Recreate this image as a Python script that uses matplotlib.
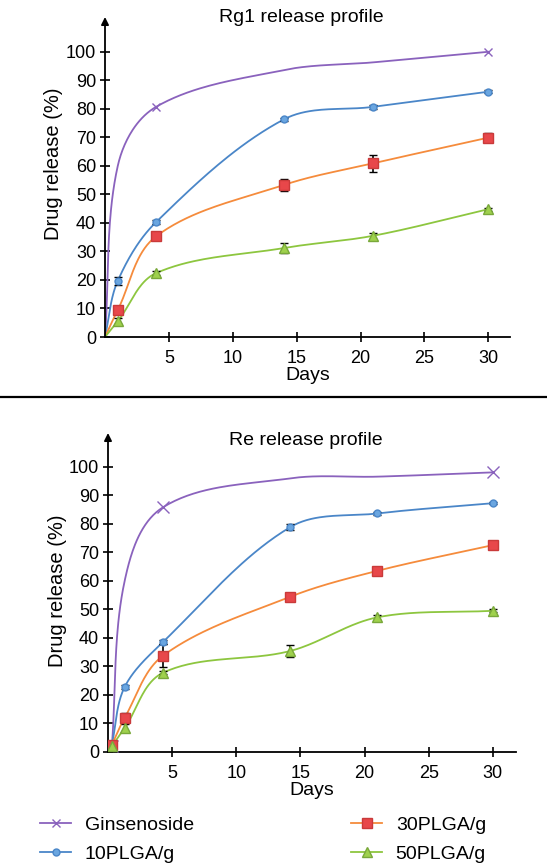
import numpy as np
import matplotlib.pyplot as plt
from matplotlib.lines import Line2D

plt.rcParams['font.family'] = ['Liberation Sans', 'DejaVu Sans']

# Rg1 release profile (top panel)
days_rg1 = [0, 1, 4, 14, 21, 30]
gin_rg1 = [0, 60, 80.7, 93.6, 96.3, 100]
p10_rg1 = [0, 19.7, 40.3, 76.3, 80.7, 86.0]
p10_rg1_err = [0, 1.5, 0.6, 0.6, 0.6, 0.6]
p30_rg1 = [0, 9.5, 35.3, 53.3, 60.9, 69.9]
p30_rg1_err = [0, 0.6, 0.8, 2.0, 3.0, 1.5]
p50_rg1 = [0, 5.5, 22.4, 31.2, 35.5, 44.8]
p50_rg1_err = [0, 1.0, 0.6, 1.8, 1.0, 0.6]

# Re release profile (bottom panel)
days_re = [0.3, 1.3, 4.3, 14.2, 21, 30]
gin_re = [2, 60, 85.8, 95.9, 96.5, 98.0]
p10_re = [2.5, 22.8, 38.6, 78.8, 83.6, 87.2]
p10_re_err = [0.4, 0.6, 0.8, 1.0, 0.5, 0.4]
p30_re = [2.5, 12.0, 33.8, 54.4, 63.5, 72.5]
p30_re_err = [0.5, 1.5, 4.0, 1.0, 0.5, 0.5]
p50_re = [2.0, 8.4, 27.8, 35.4, 47.2, 49.5]
p50_re_err = [0.5, 1.5, 0.6, 2.0, 0.8, 0.5]

labels = ['Ginsenoside', '10PLGA/g', '30PLGA/g', '50PLGA/g']
xticks = [5, 10, 15, 20, 25, 30]
yticks = list(range(0, 101, 10))

c_gin = '#8a62bd'
c_10 = '#4a86c8'
c_30 = '#f58b3c'
c_50 = '#8dc63f'


def smooth(x, y, sx, sy, n=40):
    # bezier smoothing in pixel-ish space, control arms ~ segment length / 3
    P = np.column_stack([np.asarray(x, float) * sx, np.asarray(y, float) * sy])
    m = len(P)
    tang = []
    for i in range(m):
        a = P[max(i - 1, 0)]
        b = P[min(i + 1, m - 1)]
        d = b - a
        tang.append(d / np.hypot(*d))
    t = np.linspace(0, 1, n)[1:, None]
    out = [P[:1]]
    for i in range(m - 1):
        p0, p3 = P[i], P[i + 1]
        L = np.hypot(*(p3 - p0)) / 3
        c1 = p0 + tang[i] * L
        c2 = p3 - tang[i + 1] * L
        seg = (1 - t)**3 * p0 + 3 * (1 - t)**2 * t * c1 + 3 * (1 - t) * t**2 * c2 + t**3 * p3
        out.append(seg)
    Q = np.vstack(out)
    return Q[:, 0] / sx, Q[:, 1] / sy


def series(ax, x, y, err, color, marker, mfc, mec, ms, idx):
    xs, ys = smooth(x, y, 12.8, 2.85)
    ax.plot(xs, ys, color=color, lw=1.3, zorder=2)
    x = np.asarray(x, float)[idx]
    y = np.asarray(y, float)[idx]
    e = None if err is None else np.asarray(err, float)[idx]
    ax.errorbar(x, y, yerr=e, fmt=marker, ms=ms, mfc=mfc, mec=mec, mew=1.0,
                ecolor='k', elinewidth=1.2, capsize=3, capthick=1.2, zorder=3)


def style(ax, xmax, ymax, title, ty):
    ax.set_xlim(0, xmax)
    ax.set_ylim(0, ymax)
    for s in ['top', 'right', 'left']:
        ax.spines[s].set_visible(False)
    ax.spines['bottom'].set_linewidth(1.3)
    ax.annotate('', xy=(0, 1), xytext=(0, 0), xycoords='axes fraction',
                arrowprops=dict(arrowstyle='-|>', color='k', lw=1.3, mutation_scale=11,
                                shrinkA=0, shrinkB=0))
    ax.set_xticks(xticks)
    ax.set_yticks(yticks)
    ax.tick_params(direction='inout', length=7, width=1.2, labelsize=13)
    ax.tick_params(axis='x', pad=6)
    ax.tick_params(axis='y', pad=3)
    ax.set_xlabel('Days', fontsize=14, labelpad=0)
    ax.set_ylabel('Drug release (%)', fontsize=14.5)
    ax.text(0.485, ty, title, transform=ax.transAxes, ha='center', va='center', fontsize=14)


fig = plt.figure(figsize=(5.47, 8.65), dpi=100)

ax1 = fig.add_axes([105 / 547, 1 - 337 / 865, 405 / 547, 320 / 865])
all_i = [1, 2, 3, 4, 5]
series(ax1, days_rg1, gin_rg1, None, c_gin, 'x', c_gin, c_gin, 6, [2, 5])
series(ax1, days_rg1, p10_rg1, p10_rg1_err, c_10, 'o', '#6aa6e0', c_10, 5, all_i)
series(ax1, days_rg1, p30_rg1, p30_rg1_err, c_30, 's', '#e8474a', '#c93a3a', 6.5, all_i)
series(ax1, days_rg1, p50_rg1, p50_rg1_err, c_50, '^', '#9fd14d', '#79a83a', 6.5, all_i)
style(ax1, 31.7, 112.2, 'Rg1 release profile', 1.0)
ax1.yaxis.set_label_coords(-0.104, 0.54)

ax2 = fig.add_axes([108 / 547, 1 - 752 / 865, 408 / 547, 319 / 865])
all_j = [0, 1, 2, 3, 4, 5]
series(ax2, days_re, gin_re, None, c_gin, 'x', c_gin, c_gin, 8, [0, 2, 5])
series(ax2, days_re, p10_re, p10_re_err, c_10, 'o', '#6aa6e0', c_10, 5, all_j)
series(ax2, days_re, p30_re, p30_re_err, c_30, 's', '#e8474a', '#c93a3a', 6.5, all_j)
series(ax2, days_re, p50_re, p50_re_err, c_50, '^', '#9fd14d', '#79a83a', 6.5, all_j)
style(ax2, 31.8, 111.8, 'Re release profile', 0.975)
ax2.yaxis.set_label_coords(-0.10, 0.505)

# separator between the two panels
fig.add_artist(Line2D([0, 1], [1 - 397 / 865] * 2, transform=fig.transFigure, color='k', lw=1.6))

h = [Line2D([], [], color=c_gin, marker='x', ms=6, lw=1.3),
     Line2D([], [], color=c_10, marker='o', ms=5, mfc='#6aa6e0', mec=c_10, lw=1.3),
     Line2D([], [], color=c_30, marker='s', ms=6.5, mfc='#e8474a', mec='#c93a3a', lw=1.3),
     Line2D([], [], color=c_50, marker='^', ms=6.5, mfc='#9fd14d', mec='#79a83a', lw=1.3)]
kw = dict(frameon=False, fontsize=14, handlelength=1.6, handletextpad=0.7,
          labelspacing=0.6, borderpad=0, borderaxespad=0, loc='upper left')
fig.legend(h[:2], labels[:2], bbox_to_anchor=(40 / 547, 1 - 816 / 865), **kw)
fig.legend(h[2:], labels[2:], bbox_to_anchor=(351 / 547, 1 - 816 / 865), **kw)

fig.savefig('out.png', dpi=100)
